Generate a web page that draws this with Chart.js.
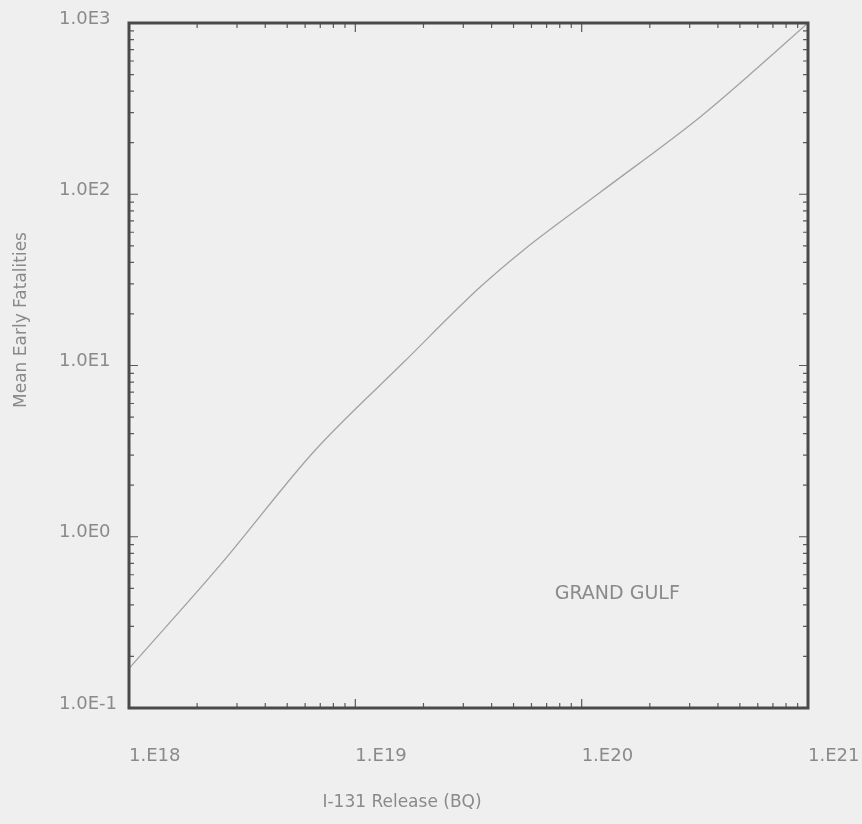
<!DOCTYPE html>
<html>
<head>
<meta charset="utf-8">
<script src="https://cdn.jsdelivr.net/npm/chart.js"></script>
<style>
html, body { margin: 0; padding: 0; background: #efefef; }
canvas { display: block; }
</style>
</head>
<body>
<canvas id="c" width="862" height="824"></canvas>
<script>
// ---- data ----
const releaseBq = [1e18, 2.52e18, 6.64e18, 1.63e19, 3.56e19, 5.51e19, 1.2e20, 3.33e20, 5.38e20, 1e21];
const meanEarlyFatalities = [0.17, 0.68, 3.2, 10.4, 28.7, 47, 102, 282, 484, 1000];

const xDecades = [1e18, 1e19, 1e20, 1e21];
const xTickLabels = ['1.E18', '1.E19', '1.E20', '1.E21'];
const yDecades = [0.1, 1, 10, 100, 1000];
const yTickLabels = ['1.0E-1', '1.0E0', '1.0E1', '1.0E2', '1.0E3'];
const minorMultipliers = [2, 3, 4, 5, 6, 7, 8, 9];

const xTitle = 'I-131 Release (BQ)';
const yTitle = 'Mean Early Fatalities';
const plantLabel = 'GRAND GULF';
const plantLabelAt = { x: 7.6e19, y: 0.46 };

const TEXT = '#8a8a8a';
const FONT = 'DejaVu Sans';

const framePlugin = {
  id: 'frame',
  beforeDraw(chart) {
    const ctx = chart.ctx;
    ctx.save();
    ctx.fillStyle = '#efefef';
    ctx.fillRect(0, 0, chart.width, chart.height);
    ctx.restore();
  },
  afterDatasetsDraw(chart) {
    const { ctx, chartArea: a, scales } = chart;
    const x = scales.x, y = scales.y;
    ctx.save();
    ctx.strokeStyle = '#5a5a5a';
    ctx.lineWidth = 1.2;
    const xt = [];
    xDecades.forEach((d, i) => {
      xt.push([d, 9]);
      if (i < xDecades.length - 1) minorMultipliers.forEach(m => xt.push([d * m, 5]));
    });
    xt.forEach(([v, len]) => {
      const px = x.getPixelForValue(v);
      ctx.beginPath();
      ctx.moveTo(px, a.bottom); ctx.lineTo(px, a.bottom - len);
      ctx.moveTo(px, a.top); ctx.lineTo(px, a.top + len);
      ctx.stroke();
    });
    const yt = [];
    yDecades.forEach((d, i) => {
      yt.push([d, 9]);
      if (i < yDecades.length - 1) minorMultipliers.forEach(m => yt.push([d * m, 5]));
    });
    yt.forEach(([v, len]) => {
      const py = y.getPixelForValue(v);
      ctx.beginPath();
      ctx.moveTo(a.left, py); ctx.lineTo(a.left + len, py);
      ctx.moveTo(a.right, py); ctx.lineTo(a.right - len, py);
      ctx.stroke();
    });
    ctx.lineWidth = 3;
    ctx.strokeStyle = '#4a4a4a';
    ctx.strokeRect(a.left, a.top, a.right - a.left, a.bottom - a.top);

    ctx.fillStyle = TEXT;
    ctx.textBaseline = 'middle';
    ctx.textAlign = 'left';
    ctx.font = '19px "' + FONT + '"';
    ctx.fillText(plantLabel, x.getPixelForValue(plantLabelAt.x), y.getPixelForValue(plantLabelAt.y));

    ctx.font = '17px "' + FONT + '"';
    ctx.textAlign = 'center';
    ctx.fillText(xTitle, 402, 803);
    ctx.translate(22, 320);
    ctx.rotate(-Math.PI / 2);
    ctx.fillText(yTitle, 0, 0);
    ctx.restore();
  }
};

new Chart(document.getElementById('c'), {
  type: 'line',
  data: {
    datasets: [{
      data: releaseBq.map((v, i) => ({ x: v, y: meanEarlyFatalities[i] })),
      borderColor: '#a2a2a2',
      borderWidth: 1.3,
      pointRadius: 0,
      fill: false,
      cubicInterpolationMode: 'monotone'
    }]
  },
  options: {
    responsive: false,
    animation: false,
    layout: { padding: { left: 59, top: 23, right: 54, bottom: 0 } },
    plugins: { legend: { display: false }, tooltip: { enabled: false } },
    scales: {
      x: {
        type: 'logarithmic',
        min: 1e18, max: 1e21,
        grid: { display: false, drawTicks: false },
        border: { display: false },
        afterBuildTicks: s => { s.ticks = xDecades.map(v => ({ value: v })); },
        afterFit: s => { s.height = 116; s.paddingLeft = 0; s.paddingRight = 0; },
        ticks: {
          autoSkip: false, maxRotation: 0, minRotation: 0,
          align: 'start', padding: 38,
          color: TEXT, font: { family: FONT, size: 18 },
          callback: (v, i) => xTickLabels[i]
        }
      },
      y: {
        type: 'logarithmic',
        min: 0.1, max: 1000,
        grid: { display: false, drawTicks: false },
        border: { display: false },
        afterBuildTicks: s => { s.ticks = yDecades.map(v => ({ value: v })); },
        afterFit: s => { s.width = 70; s.paddingTop = 0; s.paddingBottom = 0; },
        ticks: {
          autoSkip: false, crossAlign: 'far', labelOffset: -4, padding: 12,
          color: TEXT, font: { family: FONT, size: 18 },
          callback: (v, i) => yTickLabels[i]
        }
      }
    }
  },
  plugins: [framePlugin]
});
</script>
</body>
</html>
